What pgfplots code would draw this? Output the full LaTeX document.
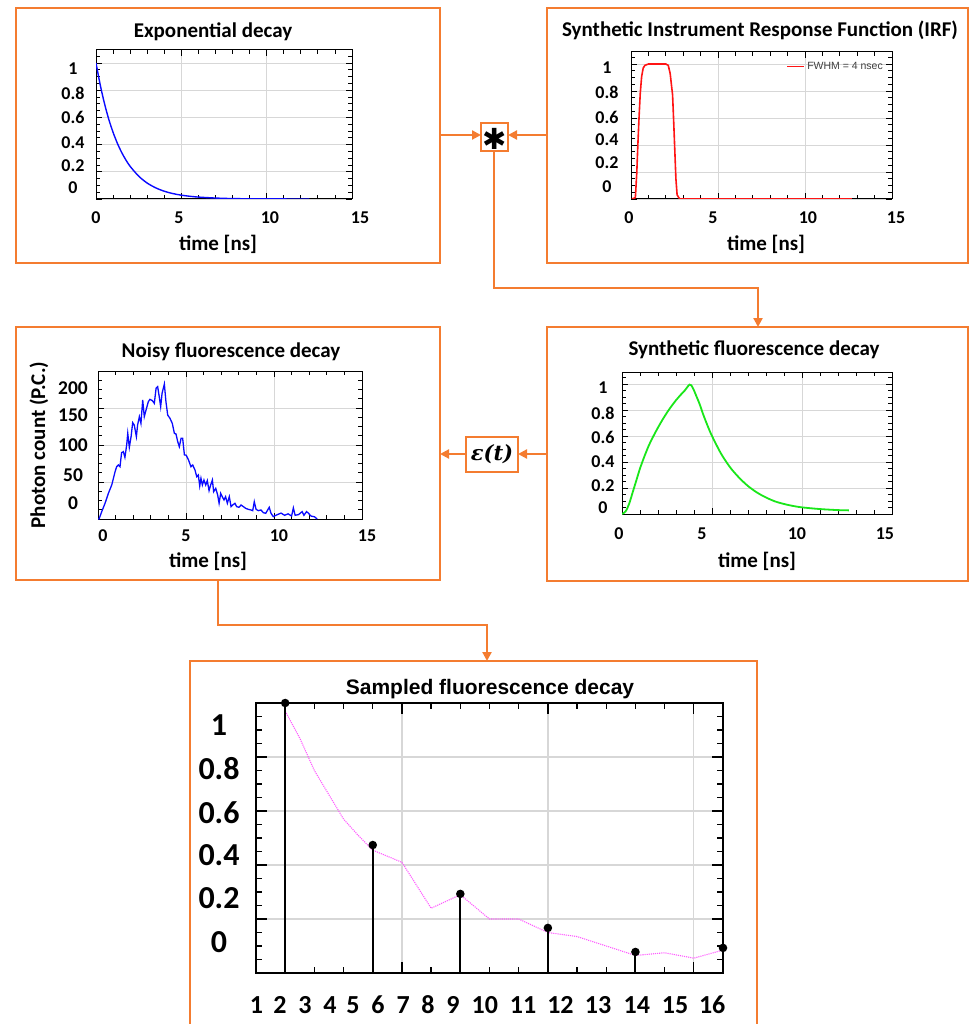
\documentclass[border=0pt]{standalone}
\usepackage{fontspec}
\setmainfont{Carlito}
\newfontfamily\arialf{Liberation Sans}
\newfontfamily\dejavu{DejaVu Sans}
\newfontfamily\dejaserif{DejaVu Serif}
\usepackage{pgfplots}
\pgfplotsset{compat=1.18}
\usetikzlibrary{arrows.meta}
\definecolor{org}{RGB}{244,124,48}
\definecolor{grd}{RGB}{215,215,215}
\definecolor{myblue}{RGB}{10,10,255}
\definecolor{myred}{RGB}{255,20,20}
\definecolor{mygreen}{RGB}{25,230,25}
\definecolor{mypink}{RGB}{255,90,255}
\pgfplotsset{
 panel/.style={
  scale only axis, anchor=north west,
  axis line style={black, line width=1pt},
  xmin=0, xmax=15, xtick={0,5,10,15}, xticklabels={},
  minor xtick={1,2,3,4,6,7,8,9,11,12,13,14},
  tick align=inside, xtick pos=both, ytick pos=both,
  major tick length=6pt, minor tick length=4pt,
  every tick/.style={black, line width=0.8pt},
  xmajorgrids, ymajorgrids,
  major grid style={grd, line width=0.8pt},
  extra tick style={major tick length=0pt, grid=none},
  tick label style={font=\fontsize{18}{18}\selectfont\bfseries},
  /pgf/number format/assume math mode=true,
 },
 unitminor/.style={minor ytick={0.05,0.1,0.15,0.25,0.3,0.35,0.45,0.5,0.55,0.65,0.7,0.75,0.85,0.9,0.95,1.05}},
}
\tikzset{conn/.style={org, line width=2.2pt}, arr/.style={org, line width=2.2pt, -{Triangle[length=9pt,width=9pt]}}}
\newcommand{\ttl}{\fontsize{21}{21}\selectfont\bfseries}
\begin{document}
\begin{tikzpicture}
\useasboundingbox (0,0) rectangle (970pt,-1024pt);
% ---------- boxes ----------
\draw[org, line width=2.5pt] (16pt,-8pt) rectangle (440pt,-263pt);
\draw[org, line width=2.5pt] (547pt,-8pt) rectangle (968pt,-263pt);
\draw[org, line width=2.5pt] (16pt,-327pt) rectangle (440pt,-580pt);
\draw[org, line width=2.5pt] (547pt,-327pt) rectangle (968pt,-581pt);
\draw[org, line width=2.5pt] (190pt,-661pt) rectangle (757pt,-1040pt);
% ---------- connectors ----------
\draw[arr] (440pt,-135pt) -- (481pt,-135pt);
\draw[arr] (547pt,-135pt) -- (508pt,-135pt);
\draw[conn] (494pt,-151pt) -- (494pt,-288pt) -- (758pt,-288pt);
\draw[arr] (758pt,-287pt) -- (758pt,-327pt);
\draw[arr] (547pt,-454pt) -- (518pt,-454pt);
\draw[arr] (466pt,-454pt) -- (440pt,-454pt);
\draw[conn] (218pt,-580pt) -- (218pt,-625pt) -- (487pt,-625pt);
\draw[arr] (487pt,-624pt) -- (487pt,-661pt);
\draw[org, line width=2.2pt, fill=white] (481pt,-123pt) rectangle (508pt,-151pt);
\node at (494.5pt,-138.5pt) {\dejavu\fontsize{29}{29}\selectfont ✱};
\draw[org, line width=2.2pt, fill=white] (466pt,-437pt) rectangle (518pt,-472pt);
\node at (492pt,-454.5pt) {\dejaserif\bfseries\itshape\fontsize{21}{21}\selectfont ε(t)};
% ---------- titles & labels ----------
\node[anchor=base] at (213pt,-38pt) {\ttl Exponential decay};
\node[anchor=base] at (760pt,-37pt) {\ttl Synthetic Instrument Response Function (IRF)};
\node[anchor=base] at (231pt,-357pt) {\ttl Noisy fluorescence decay};
\node[anchor=base] at (754pt,-355pt) {\ttl Synthetic fluorescence decay};
\node[anchor=base] at (490pt,-694pt) {\arialf\fontsize{21}{21}\selectfont\bfseries Sampled fluorescence decay};
\node[anchor=base] at (218pt,-250pt) {\ttl time [ns]};
\node[anchor=base] at (766pt,-250pt) {\ttl time [ns]};
\node[anchor=base] at (208pt,-567pt) {\ttl time [ns]};
\node[anchor=base] at (757pt,-567pt) {\ttl time [ns]};
\node[anchor=base, rotate=90] at (45pt,-445pt) {\ttl Photon count (P.C.)};
% ---------- chart 1 ----------
\begin{axis}[panel, unitminor, at={(96pt,-50pt)}, width=256pt, height=149pt,
  ymin=0, ymax=1.095, ytick={0,0.2,0.4,0.6,0.8,1}, yticklabels={},
  extra x ticks={0,4.86,10.19,15}, extra x tick labels={0,5,10,\hspace*{16pt}15},
  extra y ticks={0.956,0.779,0.596,0.412,0.243,0.081}, extra y tick labels={1,0.8,0.6,0.4,0.2,0},
  xticklabel style={anchor=center, yshift=-19pt}, yticklabel style={anchor=center, xshift=-23pt}]
\addplot[myblue, line width=1.4pt, smooth] coordinates {
(0,1) (0.25,0.837) (0.5,0.70) (0.75,0.585) (1,0.49) (1.25,0.41) (1.5,0.343) (1.75,0.287)
(2,0.24) (2.5,0.168) (3,0.117) (3.5,0.082) (4,0.057) (4.5,0.040) (5,0.028) (5.5,0.020)
(6,0.014) (7,0.007) (8,0.003) (9,0.0016) (10,0.0008) (11,0.0004) (12.5,0.0001)};
\end{axis}
% ---------- chart 2 ----------
\begin{axis}[panel, unitminor, at={(631pt,-52pt)}, width=261pt, height=147pt,
  ymin=0, ymax=1.089, ytick={0,0.2,0.4,0.6,0.8,1}, yticklabels={},
  extra x ticks={0,4.71,10.17,15}, extra x tick labels={0\hspace*{4pt},5,10,\hspace*{8pt}15},
  extra y ticks={0.970,0.793,0.607,0.437,0.267,0.089}, extra y tick labels={1,0.8,0.6,0.4,0.2,0},
  xticklabel style={anchor=center, yshift=-19pt}, yticklabel style={anchor=center, xshift=-24pt},
  legend style={at={(1,1)}, anchor=north east, xshift=-7pt, yshift=-8pt, draw=none, fill=none,
    font=\arialf\fontsize{10.5}{11}\selectfont, inner sep=0pt},
  legend image post style={draw=myred, line width=1.8pt},
  legend cell align=left]
\addplot[draw=myred, line width=1.6pt] coordinates {
(0.05,0) (0.25,0.01) (0.33,0.19) (0.40,0.42) (0.46,0.6) (0.53,0.78) (0.61,0.906) (0.7,0.97) (0.8,0.99) (1.0,1.0)
(2.0,1.0) (2.14,0.99) (2.25,0.93) (2.32,0.85) (2.39,0.77) (2.46,0.55) (2.52,0.35) (2.58,0.15) (2.65,0.03) (2.8,0) (12.7,0)};
\addlegendentry{\textcolor{black!75}{FWHM = 4 nsec}}
\end{axis}
% ---------- chart 3 ----------
\begin{axis}[panel, at={(98pt,-371pt)}, width=264pt, height=148pt,
  ymin=0, ymax=200, ytick={0,50,100,150,200}, yticklabels={},
  minor ytick={12.5,25,37.5,62.5,75,87.5,112.5,125,137.5,162.5,175,187.5},
  extra x ticks={0.28,5.0,10.28,15}, extra x tick labels={0,5,10,\hspace*{10pt}15},
  extra y ticks={177,140.5,100,59.5,21.6}, extra y tick labels={200,150,100,50,0},
  xticklabel style={anchor=center, yshift=-17pt},
  yticklabel style={anchor=center, xshift=-25pt, font=\fontsize{19.5}{19.5}\selectfont\bfseries}]
\addplot[myblue, line width=1.3pt] coordinates {
(0.0,0) (0.06,0) (0.21,9.9) (0.40,21.2) (0.59,34.7) (0.78,45.9) (0.97,64.0) (1.06,70.7) (1.16,73.0)
(1.25,70.7) (1.34,89.6) (1.44,91.0) (1.53,83.3) (1.63,100) (1.69,115.8) (1.78,96.8) (1.88,111.3)
(1.97,130.2) (2.06,127) (2.18,111.3) (2.25,127) (2.35,138.3) (2.44,129.3) (2.54,160.8) (2.63,138.3)
(2.73,147.3) (2.86,158.6) (2.95,161.7) (3.09,159.9) (3.20,156.3) (3.30,176.6) (3.39,178.8) (3.48,165.3)
(3.56,151.8) (3.64,169.8) (3.77,182.4) (3.86,158.6) (3.96,140.5) (4.09,136) (4.22,129.3) (4.34,115.8)
(4.43,114.9) (4.53,104.5) (4.62,97.7) (4.72,109) (4.81,109) (4.91,86.5) (5.00,86.5) (5.13,80.6)
(5.28,70.7) (5.38,73) (5.51,66.2) (5.61,57.2) (5.70,59.5) (5.78,44.6) (5.85,55) (5.93,45.9)
(6.02,52.7) (6.12,45.9) (6.21,51.8) (6.31,38.3) (6.40,45.9) (6.50,52.7) (6.57,36.9) (6.69,41.4)
(6.80,32.4) (6.88,21.2) (6.97,34.7) (7.06,30.2) (7.16,25.7) (7.25,30.2) (7.35,21.2) (7.46,30.2)
(7.56,16.7) (7.65,18.9) (7.78,21.2) (7.88,16.7) (8.01,15.8) (8.13,18.9) (8.26,16.7) (8.39,14.4)
(8.54,13.1) (8.69,12.2) (8.79,11.3) (8.88,23.4) (8.98,13.1) (9.11,11.3) (9.26,12.2) (9.39,8.6)
(9.53,7.7) (9.64,12.2) (9.73,15.8) (9.83,7.7) (9.96,3.2) (10.06,4.5) (10.2,6) (10.4,8) (10.6,5)
(10.8,7) (11.0,4) (11.1,15) (11.2,5) (11.4,6) (11.6,10) (11.7,5) (11.85,10) (11.95,8) (12.1,4)
(12.3,3) (12.45,0)};
\end{axis}
% ---------- chart 4 ----------
\begin{axis}[panel, unitminor, at={(622pt,-372pt)}, width=270pt, height=142pt,
  ymin=0, ymax=1.092, ytick={0,0.2,0.4,0.6,0.8,1}, yticklabels={},
  extra x ticks={0,4.44,9.72,14.61}, extra x tick labels={0\hspace*{6pt},5,10,15},
  extra y ticks={0.969,0.777,0.592,0.4,0.215,0.046}, extra y tick labels={1,0.8,0.6,0.4,0.2,0},
  xticklabel style={anchor=center, yshift=-20pt}, yticklabel style={anchor=center, xshift=-19pt}]
\addplot[mygreen, line width=1.8pt, smooth] coordinates {
(0,0) (0.2,0.02) (0.4,0.08) (0.6,0.17) (0.8,0.26) (1.0,0.35) (1.25,0.445) (1.5,0.53) (1.75,0.60)
(2.0,0.665) (2.25,0.725) (2.5,0.78) (2.75,0.83) (3.0,0.875) (3.25,0.915) (3.5,0.952) (3.65,0.98)
(3.75,0.995) (3.85,0.99) (4.0,0.95) (4.15,0.9) (4.3,0.85) (4.5,0.77) (4.75,0.68) (5.0,0.6) (5.5,0.465)
(6.0,0.36) (6.5,0.28) (7.0,0.215) (7.5,0.165) (8.0,0.127) (8.5,0.097) (9.0,0.077) (9.5,0.062)
(10,0.051) (11,0.038) (12,0.03) (12.6,0.028)};
\end{axis}
% ---------- chart 5 ----------
\begin{axis}[panel, at={(256pt,-703pt)}, width=467pt, height=270pt, clip=false,
  axis line style={black, line width=1.8pt},
  xmin=0, xmax=16, xtick={0,5,10,15}, minor xtick={1,2,3,4,6,7,8,9,11,12,13,14,16},
  ymin=0, ymax=1, ytick={0,0.2,0.4,0.6,0.8,1}, yticklabels={},
  minor ytick={0.05,0.1,0.15,0.25,0.3,0.35,0.45,0.5,0.55,0.65,0.7,0.75,0.85,0.9,0.95},
  major tick length=11pt, minor tick length=6pt,
  every tick/.style={black, line width=1.3pt},
  major grid style={grd, line width=1.3pt},
  extra x ticks={0.02,0.82,1.68,2.53,3.32,4.18,5.04,5.89,6.75,7.84,9.15,10.43,11.72,13.05,14.36,15.63},
  extra x tick labels={1,2,3,4,5,6,7,8,9,10,11,12,13,14,15,16},
  extra y ticks={0.919,0.759,0.593,0.437,0.278,0.115}, extra y tick labels={1,0.8,0.6,0.4,0.2,0},
  xticklabel style={anchor=center, yshift=-32pt, font=\fontsize{26}{26}\selectfont\bfseries},
  yticklabel style={anchor=center, xshift=-37pt, font=\fontsize{32}{32}\selectfont\bfseries}]
\addplot[mypink, densely dotted, line width=1.1pt] coordinates {
(1,0.97) (1.5,0.87) (2,0.75) (2.5,0.66) (3,0.57) (3.5,0.51) (4,0.455) (5,0.41) (6,0.24) (7,0.29)
(8,0.2) (9,0.2) (10,0.15) (11,0.135) (12,0.1) (13,0.065) (14,0.075) (15,0.055) (16,0.085)};
\addplot[black, ycomb, line width=2pt, mark=*, mark size=3.2pt, mark options={fill=black}] coordinates {
(1,1.0) (4,0.474) (7,0.293) (10,0.167) (13,0.078) (16,0.093)};
\end{axis}
\end{tikzpicture}
\end{document}
